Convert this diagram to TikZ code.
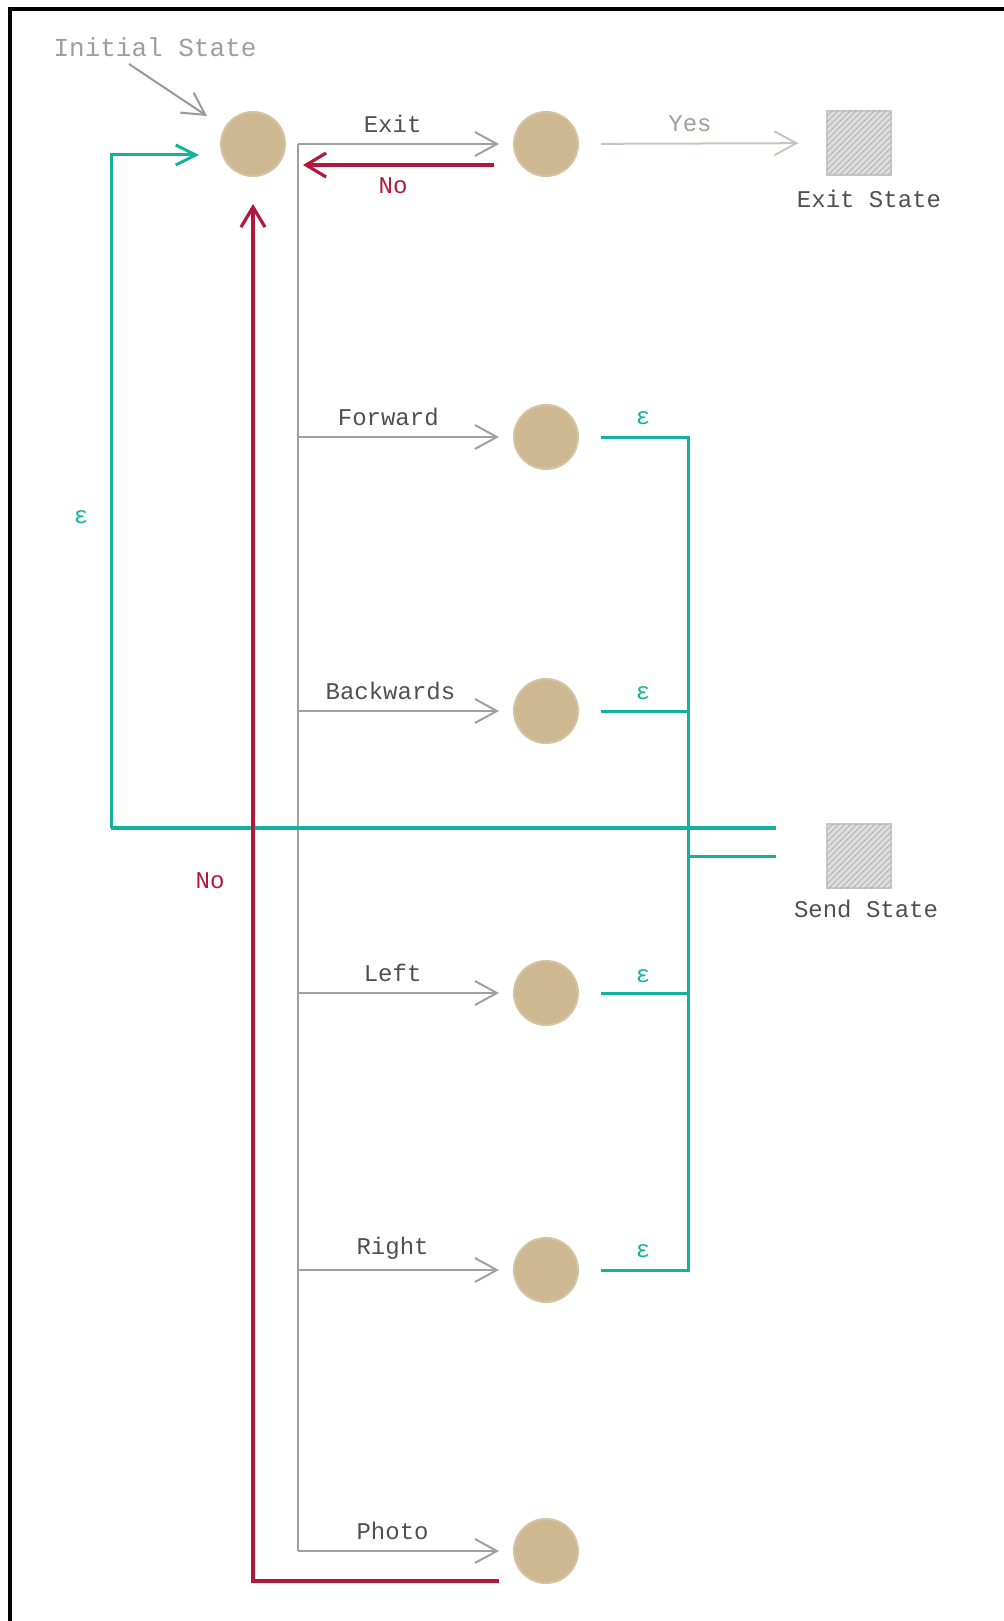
\documentclass[tikz,border=0pt]{standalone}
\usepackage{fontspec}
\newfontfamily\mono{Liberation Mono}
\usetikzlibrary{arrows.meta,patterns}
\definecolor{tan}{RGB}{205,184,146}
\definecolor{tealc}{RGB}{20,178,158}
\definecolor{crim}{RGB}{178,24,60}
\definecolor{gline}{RGB}{160,160,160}
\definecolor{yesc}{RGB}{190,202,190}
\definecolor{labc}{RGB}{80,80,80}
\begin{document}
\begin{tikzpicture}[x=0.5pt,y=-0.5pt,
  state/.style={circle,fill=tan,draw=tan!85!white,line width=1pt,minimum size=32pt,inner sep=0pt},
  final/.style={rectangle,fill=black!13,draw=black!22,line width=0.6pt,minimum size=32pt,inner sep=0pt,
    postaction={pattern=north east lines,pattern color=black!30}},
  lab/.style={font=\mono\fontsize{12pt}{14pt}\selectfont,text=labc,inner sep=0pt},
  barb/.style={-{Straight Barb[length=11pt,width=12pt,line width=1pt]}},
  grayarr/.style={barb,draw=gline,line width=1pt,shorten >=7pt},
  redarr/.style={-{Straight Barb[length=10pt,width=12pt,line width=1.6pt]},draw=crim,line width=1.6pt},
  tl/.style={draw=tealc,line width=1.5pt},
]
\useasboundingbox (0,0) rectangle (1003,1621);
% frame
\draw[line width=2pt,black] (10,1625) -- (10,9) -- (1010,9);

% states
\node[state] (init) at (253,144) {};
\node[state] (exitq) at (546,144) {};
\node[state] (fwd) at (546,437) {};
\node[state] (bwd) at (546,711) {};
\node[state] (lft) at (546,993) {};
\node[state] (rgt) at (546,1270) {};
\node[state] (pho) at (546,1551) {};
\node[final] (exitst) at (859,143) {};
\node[final] (send) at (859,856) {};

% texts
\node[lab,text=black!38,font=\mono\fontsize{13pt}{15pt}\selectfont] (inittxt) at (155,47) {Initial State};
\node[lab] (exittxt) at (869,199) {Exit State};
\node[lab] (sendtxt) at (866,909) {Send State};

% initial pointer
\coordinate (ptr) at (129,64);
\draw[barb,draw=black!40,line width=1pt] (ptr) -- (207,116);

% trunk
\coordinate (trT) at (298,144);
\coordinate (trB) at (298,1551);
\draw[gline,line width=1pt] (trT) -- (trB);
\draw[grayarr] (trT) -- (exitq) node[lab,pos=0.44,above=5pt] {Exit};
\draw[grayarr] (trT |- fwd) -- (fwd) node[lab,pos=0.42,above=5pt] {Forward};
\draw[grayarr] (trT |- bwd) -- (bwd) node[lab,pos=0.43,above=5pt] {Backwards};
\draw[grayarr] (trT |- lft) -- (lft) node[lab,pos=0.44,above=5pt] {Left};
\draw[grayarr] (trT |- rgt) -- (rgt) node[lab,pos=0.44,above=5pt] {Right};
\draw[grayarr] (trB) -- (pho) node[lab,pos=0.44,above=5pt] {Photo};

% exit No
\coordinate (noA) at (494,165);
\coordinate (noB) at (303,165);
\draw[redarr] (noA) -- (noB);
\node[lab,text=crim] (notop) at (393,186) {No};

% Yes
\draw[barb,draw=yesc,line width=1pt,shorten <=11pt,shorten >=14pt] (exitq) -- (exitst);
\node[lab,text=yesc!80!black] (yestxt) at (690,124) {Yes};

% teal bus
\coordinate (busT) at (688,437);
\coordinate (busB) at (688,1270);
\draw[tl] ([xshift=11pt]fwd.east) -- (busT) -- (busB) -- ([xshift=11pt]rgt.east);
\draw[tl] ([xshift=11pt]bwd.east) -- (bwd.east -| busT);
\draw[tl] ([xshift=11pt]lft.east) -- (lft.east -| busT);
\coordinate (sendin) at (688,856);
\draw[tl] (sendin) -- ([xshift=-25pt]send.west);
\foreach \yy in {418,693,976,1251} \node[lab,text=tealc] at (643,\yy) {ε};

% loop back
\coordinate (lpA) at (111,828);
\coordinate (lpB) at (111,155);
\draw[tl,line width=1.8pt] ([xshift=-25pt,yshift=14pt]send.west) -- (lpA);
\draw[tl,-{Straight Barb[length=10pt,width=10pt,line width=1.5pt]},shorten >=10.5pt] (lpA) -- (lpB) -- ([yshift=-5.5pt]init.west);
\node[lab,text=tealc] (epsL) at (81,517) {ε};

% red back from photo
\coordinate (redc) at (253,1581);
\draw[redarr,shorten >=13.5pt] ([xshift=-7pt,yshift=-15pt]pho.west) -- (redc) -- (init);
\node[lab,text=crim] (nobot) at (210,881) {No};
\end{tikzpicture}
\end{document}
